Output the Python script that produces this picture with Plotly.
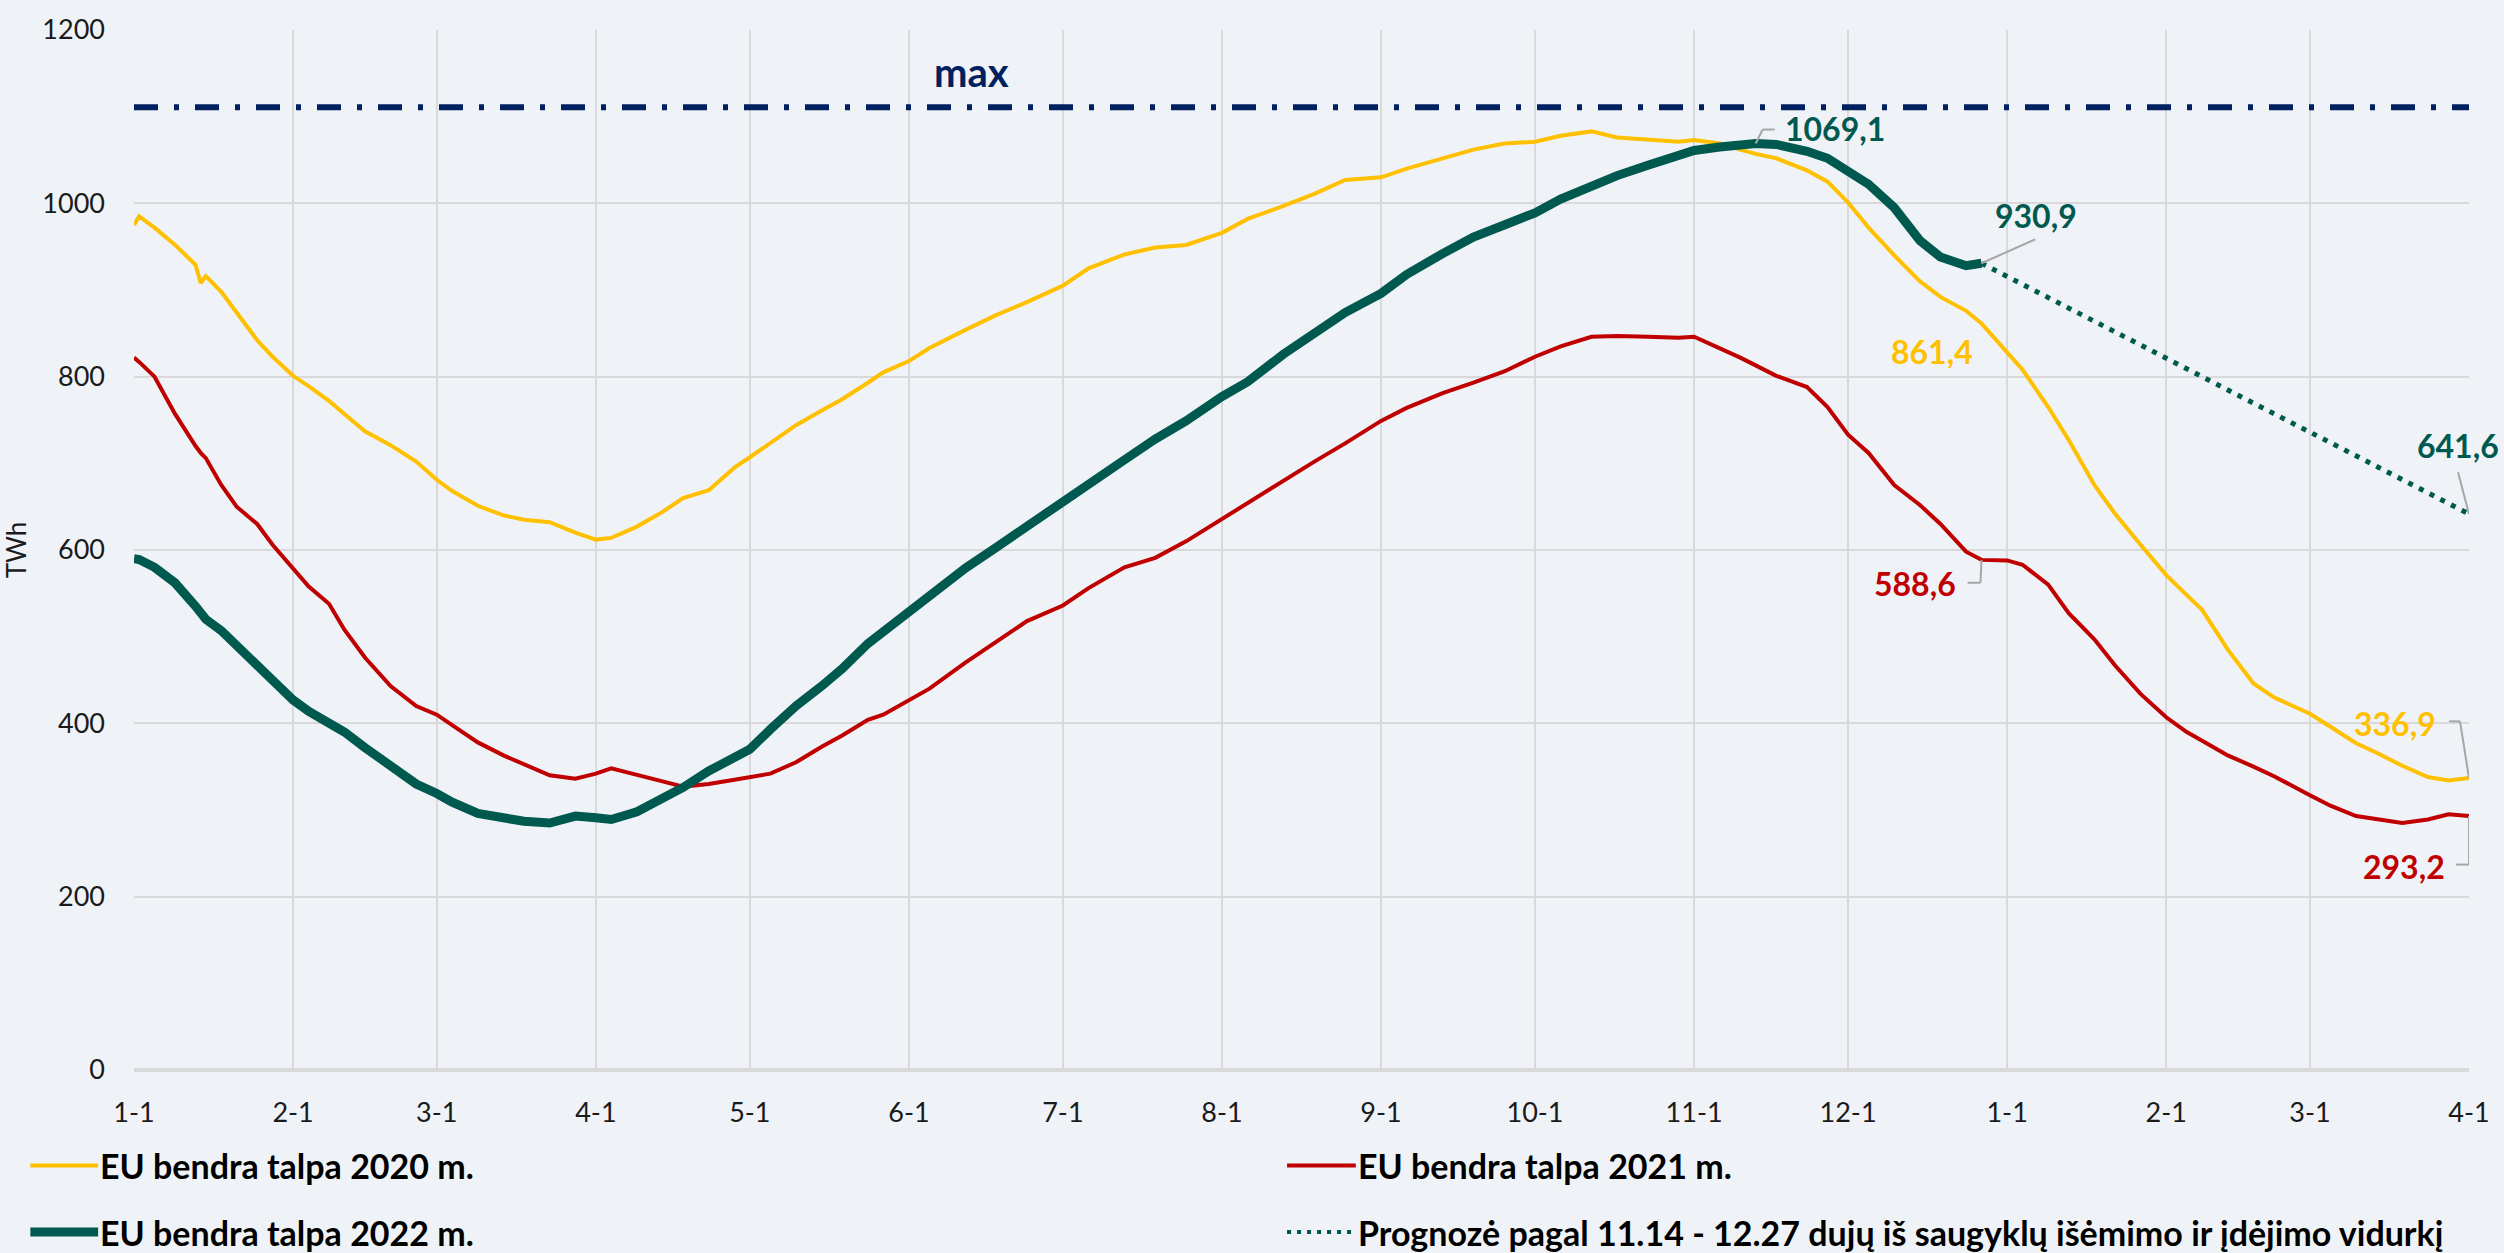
import pandas as pd
import plotly.graph_objects as go

# ---------------------------------------------------------------- data
# Day of the storage season (Jan 1 .. Apr 1 of the following year), "MM-DD"
DAYS = [
    "01-01", "01-02", "01-05", "01-09", "01-13", "01-14", "01-15", "01-18", "01-21", "01-25",
    "01-28", "02-01", "02-04", "02-08", "02-11", "02-15", "02-20", "02-25", "03-01", "03-04",
    "03-09", "03-14", "03-18", "03-23", "03-28", "04-01", "04-04", "04-09", "04-14", "04-18",
    "04-23", "04-28", "05-01", "05-05", "05-10", "05-15", "05-19", "05-24", "05-27", "06-01",
    "06-05", "06-12", "06-18", "06-24", "07-01", "07-06", "07-13", "07-19", "07-25", "08-01",
    "08-06", "08-13", "08-19", "08-25", "09-01", "09-06", "09-13", "09-19", "09-25", "10-01",
    "10-06", "10-12", "10-17", "10-23", "10-29", "11-01", "11-06", "11-10", "11-13", "11-17",
    "11-23", "11-27", "12-01", "12-05", "12-10", "12-15", "12-19", "12-24", "12-27",
    "01-01", "01-04", "01-09", "01-13", "01-18", "01-22", "01-27", "02-01", "02-05", "02-08",
    "02-13", "02-18", "02-22", "03-01", "03-05", "03-10", "03-14", "03-19", "03-24", "03-28",
    "04-01",
]

# EU gas storage level, TWh
Y2020 = [
    975, 985, 972, 952, 929, 908, 916, 898, 874, 842,
    823, 801, 789, 772, 757, 737, 721, 702, 681, 668,
    651, 640, 635, 632, 620, 612, 614, 627, 644, 660,
    669, 695, 707, 724, 744, 761, 774, 793, 805, 818,
    833, 854, 871, 886, 905, 925, 941, 949, 952, 966,
    982, 997, 1011, 1027, 1030, 1040, 1052, 1062, 1069, 1071,
    1078, 1083, 1076, 1073, 1071, 1073, 1069, 1062, 1057, 1052,
    1038, 1025, 1001, 972, 940, 910, 892, 876, 861.4,
    828, 808, 765, 727, 675, 642, 606, 571, 548, 531,
    485, 446, 430, 411, 396, 377, 366, 351, 338, 334,
    336.9,
]

Y2021 = [
    822, 817, 800, 757, 720, 712, 706, 675, 650, 630,
    606, 578, 558, 538, 508, 476, 443, 420, 410, 398,
    378, 363, 353, 340, 336, 342, 348, 341, 333, 327,
    330, 335, 338, 342, 355, 373, 386, 404, 410, 426,
    440, 470, 494, 518, 536, 556, 580, 591, 610, 636,
    654, 680, 702, 723, 749, 764, 781, 793, 806, 823,
    835, 846, 847, 846, 845, 846, 833, 822, 813, 801,
    788, 765, 733, 712, 675, 652, 630, 598, 588.6,
    588, 583, 560, 527, 497, 467, 434, 407, 390, 380,
    363, 350, 339, 317, 305, 293, 289, 285, 289, 295,
    293.2,
]

# 2022 runs up to 12-27
Y2022 = [
    590, 589, 580, 562, 535, 526, 520, 507, 490, 467,
    449, 427, 414, 401, 390, 372, 352, 330, 319, 309,
    296, 290, 287, 285, 293, 291, 289, 298, 314, 326,
    345, 362, 370, 393, 420, 443, 463, 492, 506, 530,
    546, 579, 603, 628, 655, 677, 704, 728, 749, 777,
    794, 826, 849, 874, 896, 918, 942, 961, 975, 989,
    1005, 1021, 1032, 1044, 1056, 1061, 1065, 1068, 1069.1, 1068,
    1060, 1052, 1037, 1022, 995, 957, 938, 928, 930.9,
]

# Forecast from the average withdrawal/injection of 11.14 - 12.27
FORECAST_DAYS = ["12-27", "04-01"]
FORECAST = [930.9, 641.6]

MAX_CAPACITY = 1111

TICK_LABELS = ["1-1", "2-1", "3-1", "4-1", "5-1", "6-1", "7-1", "8-1",
               "9-1", "10-1", "11-1", "12-1", "1-1", "2-1", "3-1", "4-1"]

NAME_2020 = "EU bendra talpa 2020 m."
NAME_2021 = "EU bendra talpa 2021 m."
NAME_2022 = "EU bendra talpa 2022 m."
NAME_FORECAST = "Prognozė pagal 11.14 - 12.27 dujų iš saugyklų išėmimo ir įdėjimo vidurkį"

# ---------------------------------------------------------------- style
YELLOW = "#FFC000"
RED = "#C00000"
TEAL = "#00594F"
NAVY = "#002060"
GRID = "#D9D9D9"
LEADER = "#A6A6A6"
BG = "#EFF3F7"
FONT = "Lato, 'Open Sans', sans-serif"

W, H = 2504, 1253
ML, MR, MT, MB = 126, 35, 24, 183
PW, PH = W - ML - MR, H - MT - MB

X_START = pd.Timestamp("2022-01-01")
X_END = pd.Timestamp("2023-04-01")
Y_MAX = 1200
PX_PER_DAY = PW / (X_END - X_START).days
PX_PER_UNIT = PH / Y_MAX


def to_dates(days, first_year=X_START.year):
    """Map season days "MM-DD" onto the shared axis, rolling over into the next year."""
    out, year, prev = [], first_year, 0
    for d in days:
        m, dd = map(int, d.split("-"))
        if m < prev:
            year += 1
        prev = m
        out.append(pd.Timestamp(year=year, month=m, day=dd))
    return out


def shifted(x, y, dx, dy):
    """Data point moved by (dx, dy) screen pixels, dy pointing up."""
    return x + pd.Timedelta(days=dx / PX_PER_DAY), y + dy / PX_PER_UNIT


def paper(px, py):
    return (px - ML) / PW, (H - MB - py) / PH


def fmt(v):
    return f"{v:.1f}".replace(".", ",")


dates = to_dates(DAYS)
dates22 = dates[:len(Y2022)]
fdates = to_dates(FORECAST_DAYS)

fig = go.Figure()

fig.add_trace(go.Scatter(x=[X_START, X_END], y=[MAX_CAPACITY, MAX_CAPACITY], mode="lines",
                         line=dict(color=NAVY, width=6, dash="24px,16px,5px,16px"),
                         hoverinfo="skip", showlegend=False))
fig.add_trace(go.Scatter(x=dates, y=Y2020, mode="lines", name=NAME_2020,
                         line=dict(color=YELLOW, width=4), showlegend=False))
fig.add_trace(go.Scatter(x=dates, y=Y2021, mode="lines", name=NAME_2021,
                         line=dict(color=RED, width=4), showlegend=False))
fig.add_trace(go.Scatter(x=fdates, y=FORECAST, mode="lines", name=NAME_FORECAST,
                         line=dict(color=TEAL, width=5, dash="5px,7px"), showlegend=False))
fig.add_trace(go.Scatter(x=dates22, y=Y2022, mode="lines", name=NAME_2022,
                         line=dict(color=TEAL, width=9), showlegend=False))

# ---------------------------------------------------------------- value labels
i_dec27 = DAYS.index("12-27")
i_peak = max(range(len(Y2022)), key=lambda i: Y2022[i])

labels = [
    # x, y, colour, text dx, text dy, anchor, leader points (px offsets)
    (dates22[i_peak], Y2022[i_peak], TEAL, 27, 15, "left", [(0, 0), (7, 14), (19, 14)]),
    (dates22[-1], Y2022[-1], TEAL, 55, 48, "center", [(0, 0), (54, 24)]),
    (dates[i_dec27], Y2020[i_dec27], YELLOW, -49, -28, "center", None),
    (dates[i_dec27], Y2021[i_dec27], RED, -23, -24, "right", [(0, 0), (-1, -23), (-14, -23)]),
    (dates[-1], Y2020[-1], YELLOW, -31, 55, "right", [(0, 0), (-9, 57), (-20, 57)]),
    (dates[-1], Y2021[-1], RED, -22, -51, "right", [(0, 0), (0, -49), (-13, -49)]),
    (fdates[-1], FORECAST[-1], TEAL, -11, 68, "center", [(0, 0), (-11, 42)]),
]

for x, y, color, dx, dy, anchor, leader in labels:
    fig.add_annotation(x=x, y=y, xref="x", yref="y", text=f"<b>{fmt(y)}</b>", showarrow=False,
                       xshift=dx, yshift=dy, xanchor=anchor, yanchor="middle",
                       font=dict(family=FONT, size=32, color=color))
    if leader:
        pts = [shifted(x, y, px, py) for px, py in leader]
        for (xa, ya), (xb, yb) in zip(pts[:-1], pts[1:]):
            fig.add_shape(type="line", xref="x", yref="y", x0=xa, y0=ya, x1=xb, y1=yb,
                          line=dict(color=LEADER, width=2), layer="above")

fig.add_annotation(x=paper(966, 0)[0], xref="paper", y=MAX_CAPACITY, yref="y", yshift=35,
                   text="<b>max</b>", showarrow=False, xanchor="center", yanchor="middle",
                   font=dict(family=FONT, size=40, color=NAVY))

# ---------------------------------------------------------------- legend
legend_items = [
    (NAME_2020, YELLOW, 4, "solid", 22, 90, 1166, 90),
    (NAME_2021, RED, 4, "solid", 1283, 1352, 1166, 1352),
    (NAME_2022, TEAL, 9, "solid", 22, 90, 1233, 90),
    (NAME_FORECAST, TEAL, 4, "4px,6px", 1283, 1350, 1233, 1352),
]
for name, color, width, dash, x0, x1, yy, tx in legend_items:
    px0, py0 = paper(x0, yy)
    px1, _ = paper(x1, yy)
    fig.add_shape(type="line", xref="paper", yref="paper", x0=px0, x1=px1, y0=py0, y1=py0,
                  line=dict(color=color, width=width, dash=dash))
    fig.add_annotation(x=paper(tx, yy)[0], y=py0, xref="paper", yref="paper",
                       text=f"<b>{name}</b>", showarrow=False, xanchor="left", yanchor="middle",
                       font=dict(family=FONT, size=34, color="#000000"))

# ---------------------------------------------------------------- axes
month_starts = list(pd.date_range(X_START, X_END, freq="MS"))

fig.update_xaxes(type="date", range=[X_START, X_END], tickvals=month_starts, ticktext=TICK_LABELS,
                 showgrid=True, gridcolor=GRID, gridwidth=2, zeroline=False, showline=False,
                 ticks="", ticklabelstandoff=24,
                 tickfont=dict(family=FONT, size=27, color="#1A1A1A"))
fig.update_yaxes(range=[0, Y_MAX], tickvals=list(range(0, Y_MAX + 1, 200)),
                 showgrid=True, gridcolor=GRID, gridwidth=2,
                 zeroline=True, zerolinecolor=GRID, zerolinewidth=4,
                 ticks="", ticklabelstandoff=28,
                 tickfont=dict(family=FONT, size=27, color="#1A1A1A"),
                 title=dict(text="TWh", standoff=12, font=dict(family=FONT, size=26, color="#1A1A1A")))

fig.update_layout(width=W, height=H, margin=dict(l=ML, r=MR, t=MT, b=MB),
                  paper_bgcolor=BG, plot_bgcolor=BG, showlegend=False,
                  font=dict(family=FONT))

fig.write_html("out.html")
